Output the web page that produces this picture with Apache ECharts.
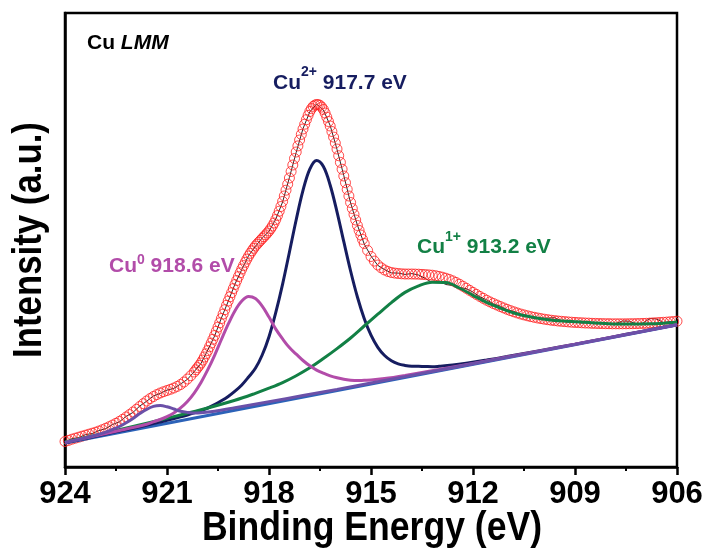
<!DOCTYPE html>
<html>
<head>
<meta charset="utf-8">
<script src="https://cdn.jsdelivr.net/npm/echarts@6/dist/echarts.min.js"></script>
<style>
  html, body { margin: 0; padding: 0; background: #fff; }
  #chart { width: 708px; height: 557px; }
</style>
</head>
<body>
<div id="chart"></div>
<script>
// Cu LMM Auger region: binding energy (eV) vs. intensity (a.u.)

// Fitted envelope (open circles)
const envelopePoints = [
  [924.0,25.5],[923.9,26.6],[923.8,27.8],[923.7,28.8],[923.6,29.8],[923.5,30.8],[923.4,31.8],[923.3,32.8],[923.2,33.8],[923.1,34.8],
  [923.0,36.0],[922.9,37.3],[922.8,38.8],[922.7,40.3],[922.6,42.0],[922.5,43.7],[922.4,45.6],[922.3,47.7],[922.2,50.0],[922.1,52.4],
  [922.0,55.0],[921.9,57.7],[921.8,60.5],[921.7,63.3],[921.6,66.0],[921.5,68.4],[921.4,70.5],[921.3,72.4],[921.2,74.0],[921.1,75.3],
  [921.0,76.5],[920.9,77.7],[920.8,79.0],[920.7,80.6],[920.6,82.5],[920.5,85.0],[920.4,88.0],[920.3,91.3],
  [920.2,95.0],[920.15,97.2],[920.1,99.4],[920.05,101.6],[920.0,104.0],[919.95,106.9],[919.9,110.0],[919.85,113.2],[919.8,116.5],
  [919.75,120.2],[919.7,123.9],[919.65,127.7],[919.6,131.5],[919.55,135.7],[919.5,139.9],[919.45,144.2],[919.4,148.5],[919.35,152.9],
  [919.3,157.3],[919.25,161.7],[919.2,166.0],[919.15,170.2],[919.1,174.3],[919.05,178.4],[919.0,182.5],[918.95,186.5],[918.9,190.4],
  [918.85,194.2],[918.8,198.0],[918.75,201.4],[918.7,204.7],[918.65,207.9],[918.6,211.0],[918.55,213.7],[918.5,216.2],[918.45,218.7],
  [918.4,221.0],[918.35,222.9],[918.3,224.8],[918.25,226.6],[918.2,228.5],[918.15,230.3],[918.1,232.1],[918.05,234.0],[918.0,236.0],
  [917.95,238.4],[917.9,241.0],[917.85,244.0],[917.8,247.5],[917.75,251.5],[917.7,255.8],[917.65,260.5],[917.6,265.5],[917.55,271.0],
  [917.5,276.8],[917.45,282.8],[917.4,289.0],[917.35,295.5],[917.3,302.0],[917.25,308.5],[917.2,315.0],[917.15,321.1],[917.1,327.0],
  [917.05,332.6],[917.0,338.0],[916.95,342.8],[916.9,347.3],[916.85,351.6],[916.8,355.5],[916.75,358.4],[916.7,360.6],[916.65,361.9],
  [916.6,362.5],[916.55,362.4],[916.5,361.6],[916.45,359.9],[916.4,357.5],[916.35,354.0],[916.3,349.8],[916.25,345.5],[916.2,341.0],
  [916.15,335.5],[916.1,329.9],[916.05,324.0],[916.0,318.0],[915.95,311.3],[915.9,304.6],[915.85,297.8],[915.8,291.0],[915.75,284.3],
  [915.7,277.6],[915.65,271.0],[915.6,264.5],[915.55,258.5],[915.5,252.6],[915.45,247.0],[915.4,241.5],[915.35,236.6],[915.3,232.0],
  [915.25,227.6],[915.2,223.5],
  [915.1,216.6],[915.0,210.5],[914.9,205.9],[914.8,202.0],[914.7,199.2],[914.6,197.0],[914.5,195.5],[914.4,194.5],[914.3,193.9],
  [914.2,193.5],[914.1,193.2],[914.0,193.0],[913.9,193.0],[913.8,193.0],[913.7,192.9],[913.6,192.8],[913.5,192.6],[913.4,192.4],
  [913.3,192.1],[913.2,191.8],[913.1,191.3],[913.0,190.6],[912.9,189.8],[912.8,188.8],[912.7,187.6],[912.6,186.2],[912.5,184.6],
  [912.4,182.8],[912.3,180.8],[912.2,178.8],[912.1,176.7],[912.0,174.6],[911.9,172.6],[911.8,170.6],[911.7,168.7],[911.6,166.8],
  [911.5,165.1],[911.4,163.5],[911.3,162.0],[911.2,160.5],[911.1,159.1],[911.0,157.7],[910.9,156.4],[910.8,155.2],[910.7,154.1],
  [910.6,153.0],[910.5,152.1],[910.4,151.2],[910.3,150.4],[910.2,149.7],[910.1,149.0],[910.0,148.4],[909.9,147.8],[909.8,147.3],
  [909.7,146.8],[909.6,146.4],[909.5,146.0],[909.4,145.7],[909.3,145.4],[909.2,145.1],[909.1,144.8],[909.0,144.6],[908.9,144.4],
  [908.8,144.2],[908.7,144.0],[908.6,143.9],[908.5,143.7],[908.4,143.6],[908.3,143.5],[908.2,143.4],[908.1,143.3],[908.0,143.3],
  [907.9,143.2],[907.8,143.2],[907.7,143.2],[907.6,143.2],[907.5,143.2],[907.4,143.3],[907.3,143.3],[907.2,143.4],[907.1,143.5],
  [907.0,143.6],[906.9,143.7],[906.8,143.9],[906.7,144.1],[906.6,144.3],[906.5,144.5],[906.4,144.7],[906.3,144.9],[906.2,145.2],
  [906.1,145.5],[906.0,145.8]
];

// Measured spectrum (thin black trace)
const rawPoints = [
  [924.0,25.0],[923.8,28.3],[923.6,29.4],[923.4,32.3],[923.2,33.5],[923.0,36.4],[922.8,38.4],[922.6,42.5],[922.4,45.2],[922.2,50.6],
  [922.0,54.6],[921.8,61.0],[921.6,65.7],[921.4,71.0],[921.2,73.6],[921.0,76.9],[920.8,78.6],[920.6,83.0],[920.4,87.6],[920.2,95.4],
  [920.0,103.6],[919.8,117.0],[919.6,131.0],[919.4,149.0],[919.2,165.6],[919.0,183.0],[918.8,197.5],[918.6,211.4],[918.4,220.6],
  [918.2,229.0],[918.0,235.6],[917.8,248.0],[917.6,265.0],[917.4,289.4],[917.2,314.6],[917.0,338.4],[916.8,355.1],[916.6,362.9],
  [916.4,357.1],[916.2,341.4],[916.0,317.6],[915.8,291.4],[915.6,264.1],[915.4,241.9],[915.2,223.1],[915.0,210.9],[914.8,201.6],
  [914.6,197.4],[914.4,194.1],[914.2,193.9],[914.0,192.6],[913.8,193.4],[913.6,192.0],[913.4,188.5],[913.2,184.5],[913.0,186.0],
  [912.8,182.5],[912.6,181.5],[912.4,179.5],[912.2,178.4],[912.0,175.0],[911.8,170.2],[911.6,167.2],[911.4,163.1],[911.2,160.9],
  [911.0,157.3],[910.8,155.6],[910.6,152.6],[910.4,151.6],[910.2,149.3],[910.0,148.8],[909.8,148.9],[909.6,149.3],[909.4,146.0],
  [909.2,144.8],[909.0,145.0],[908.8,143.9],[908.6,144.3],[908.4,143.3],[908.2,143.8],[908.0,143.0],[907.8,143.6],[907.6,146.0],
  [907.4,145.8],[907.2,143.1],[907.0,143.9],[906.8,148.5],[906.6,148.0],[906.4,144.4],[906.2,145.5],[906.0,145.5]
];

// Background
const backgroundPoints = [[924.0,24.0],[906.0,142.0]];

// Cu2+ component (plotted on background)
const cu2Points = [
  [924.0,24.3],[923.0,31.5],[922.0,38.8],[921.4,43.4],[921.0,46.6],[920.6,50.1],[920.4,52.0],[920.2,54.1],[920.0,56.4],[919.8,59.0],
  [919.6,62.3],[919.4,66.2],[919.2,70.5],[919.0,75.8],[918.8,82.0],[918.6,90.0],[918.4,98.7],[918.2,112.0],[918.0,130.3],[917.8,154.6],
  [917.6,182.9],[917.4,214.8],[917.2,247.3],[917.0,276.6],[916.8,297.9],[916.6,306.5],[916.4,300.5],[916.2,281.8],[916.0,255.2],
  [915.8,225.3],[915.6,196.0],[915.4,170.0],[915.2,148.5],[915.0,131.8],[914.8,119.7],[914.6,111.5],[914.4,106.2],[914.2,103.1],
  [914.0,101.6],[913.8,100.8],[913.6,100.7],[913.4,100.5],[913.2,100.3],[913.0,100.7],[912.6,101.9],[912.2,103.7],[911.6,106.9],
  [911.0,110.4],[910.0,116.6],[909.0,122.9],[908.0,129.4],[907.0,135.9],[906.0,142.3]
];

// Cu0 component
const cu0Points = [
  [924.0,24.6],[923.2,30.5],[922.4,36.5],[922.0,39.5],[921.6,42.8],[921.4,45.1],[921.2,47.5],[921.0,50.4],[920.8,54.1],[920.6,59.1],
  [920.4,65.5],[920.2,73.9],[920.0,84.5],[919.8,97.3],[919.6,111.7],[919.4,127.5],[919.2,142.8],[919.0,156.3],[918.8,166.0],[918.6,170.4],
  [918.4,168.4],[918.2,160.8],[918.0,149.9],[917.8,137.9],[917.6,128.1],[917.4,119.4],[917.2,112.9],[917.0,106.5],[916.8,101.2],
  [916.6,96.9],[916.4,93.8],[916.2,91.2],[916.0,89.2],[915.8,87.7],[915.6,86.8],[915.4,86.4],[915.2,86.7],[915.0,86.9],[914.6,88.4],
  [914.0,91.6],[913.0,97.5],[912.0,103.6],[910.0,116.3],[908.0,129.3],[906.0,142.3]
];

// Cu1+ component
const cu1Points = [
  [924.0,25.0],[923.0,32.6],[922.0,40.6],[921.0,48.7],[920.0,57.2],[919.0,66.8],[918.4,73.7],[918.0,78.8],[917.6,84.4],[917.2,91.3],
  [916.8,99.2],[916.4,108.5],[916.0,118.4],[915.6,129.0],[915.2,141.0],[914.8,152.8],[914.4,164.4],[914.0,174.6],[913.6,181.2],
  [913.2,184.8],[912.8,184.4],[912.4,179.0],[912.0,171.7],[911.6,164.6],[911.2,158.9],[910.8,154.0],[910.4,150.7],[910.0,148.3],
  [909.6,146.6],[909.2,145.8],[908.8,144.9],[908.4,144.1],[908.0,143.3],[907.6,142.9],[907.2,142.9],[906.8,143.2],[906.4,143.8],
  [906.0,145.0]
];

// Satellite component near 921.3 eV
const satellitePoints = [
  [924.0,24.3],[923.6,27.4],[923.2,30.7],[922.8,34.9],[922.6,37.5],[922.4,40.5],[922.2,44.3],[922.0,48.6],[921.8,53.4],[921.6,57.7],
  [921.4,60.6],[921.2,61.4],[921.0,60.2],[920.8,58.0],[920.6,55.8],[920.4,54.6],[920.2,53.9],[920.0,54.2],[919.6,55.8],[919.0,59.3],
  [918.0,65.3],[917.0,71.4],[916.0,77.6],[914.0,90.4],[912.0,103.2],[909.0,122.6],[906.0,142.2]
];

const energyRange = [906, 924];
const energyStep = 3;
const intensityRange = [0, 454];

const FONT = 'Liberation Sans';
const COLORS = {
  envelope: '#ff1e1e',
  raw: '#111111',
  background: '#2c62b8',
  cu2: '#161d60',
  cu0: '#b24ca9',
  cu1: '#128045',
  satellite: '#6b50a8'
};

function lineSeries(name, data, color, width, z) {
  return {
    name, type: 'line', data, z,
    showSymbol: false, smooth: 0.35, silent: true,
    lineStyle: { color, width },
    emphasis: { disabled: true }
  };
}

function peakLabel(x, y, sup, rest, color, raise) {
  return {
    type: 'text', x, y, silent: true,
    style: {
      text: '{m|Cu}{s|' + sup + '}{m|' + rest + '}',
      align: 'left', verticalAlign: 'top', textAlign: 'left', textVerticalAlign: 'top',
      rich: {
        m: { fontFamily: FONT, fontWeight: 'bold', fontSize: 21, lineHeight: 21, verticalAlign: 'bottom', fill: color },
        s: { fontFamily: FONT, fontWeight: 'bold', fontSize: 14, lineHeight: 14, padding: [0, 0, raise, 0], verticalAlign: 'bottom', fill: color }
      }
    }
  };
}

const chart = echarts.init(document.getElementById('chart'), null, { renderer: 'canvas' });

chart.setOption({
  animation: false,
  backgroundColor: '#fff',
  grid: {
    left: 65, right: 31, top: 13, bottom: 90,
    show: true, borderColor: '#000', borderWidth: 2.5, backgroundColor: 'transparent'
  },
  xAxis: {
    type: 'value',
    inverse: true,
    min: energyRange[0], max: energyRange[1], interval: energyStep,
    axisLine: { show: true, lineStyle: { color: '#000', width: 2.5 } },
    axisTick: { show: true, inside: false, length: 8, lineStyle: { color: '#000', width: 2.5 } },
    minorTick: { show: true, splitNumber: 2, length: 4, lineStyle: { color: '#000', width: 2 } },
    splitLine: { show: false },
    axisLabel: { color: '#000', fontFamily: FONT, fontWeight: 'bold', fontSize: 31, margin: 12 }
  },
  yAxis: {
    type: 'value',
    min: intensityRange[0], max: intensityRange[1],
    axisLine: { show: true, lineStyle: { color: '#000', width: 2.5 } },
    axisTick: { show: false },
    axisLabel: { show: false },
    splitLine: { show: false }
  },
  series: [
    Object.assign(lineSeries('Raw', rawPoints, COLORS.raw, 0.9, 1), { smooth: false }),
    {
      name: 'Envelope', type: 'scatter', data: envelopePoints, z: 2,
      symbol: 'circle', symbolSize: 10, clip: false, silent: true,
      itemStyle: { color: 'rgba(255,255,255,0)', borderColor: COLORS.envelope, borderWidth: 1 }
    },
    Object.assign(lineSeries('Background', backgroundPoints, COLORS.background, 3, 4), { smooth: false }),
    lineSeries('Cu2+', cu2Points, COLORS.cu2, 3, 5),
    lineSeries('Cu1+', cu1Points, COLORS.cu1, 3, 6),
    lineSeries('Cu0', cu0Points, COLORS.cu0, 3, 7),
    lineSeries('Satellite', satellitePoints, COLORS.satellite, 3, 8)
  ],
  graphic: [
    {
      type: 'text', x: 372, y: 529, scaleX: 0.89, silent: true,
      style: {
        text: 'Binding Energy (eV)', fill: '#000',
        fontFamily: FONT, fontWeight: 'bold', fontSize: 40,
        align: 'center', verticalAlign: 'middle', textAlign: 'center', textVerticalAlign: 'middle'
      }
    },
    {
      type: 'text', x: 29.5, y: 240, rotation: Math.PI / 2, scaleX: 0.87, silent: true,
      style: {
        text: 'Intensity (a.u.)', fill: '#000',
        fontFamily: FONT, fontWeight: 'bold', fontSize: 40,
        align: 'center', verticalAlign: 'middle', textAlign: 'center', textVerticalAlign: 'middle'
      }
    },
    {
      type: 'text', x: 87, y: 32.3, silent: true,
      style: {
        text: '{n|Cu }{i|LMM}',
        align: 'left', verticalAlign: 'top', textAlign: 'left', textVerticalAlign: 'top',
        rich: {
          n: { fontFamily: FONT, fontWeight: 'bold', fontSize: 21, lineHeight: 21, fill: '#000' },
          i: { fontFamily: FONT, fontWeight: 'bold', fontStyle: 'italic', fontSize: 21, lineHeight: 21, fill: '#000' }
        }
      }
    },
    peakLabel(273, 72.3, '2+', ' 917.7 eV', COLORS.cu2, 14),
    peakLabel(417, 236.3, '1+', ' 913.2 eV', COLORS.cu1, 13),
    peakLabel(109, 255.8, '0', ' 918.6 eV', COLORS.cu0, 10)
  ]
});
</script>
</body>
</html>
